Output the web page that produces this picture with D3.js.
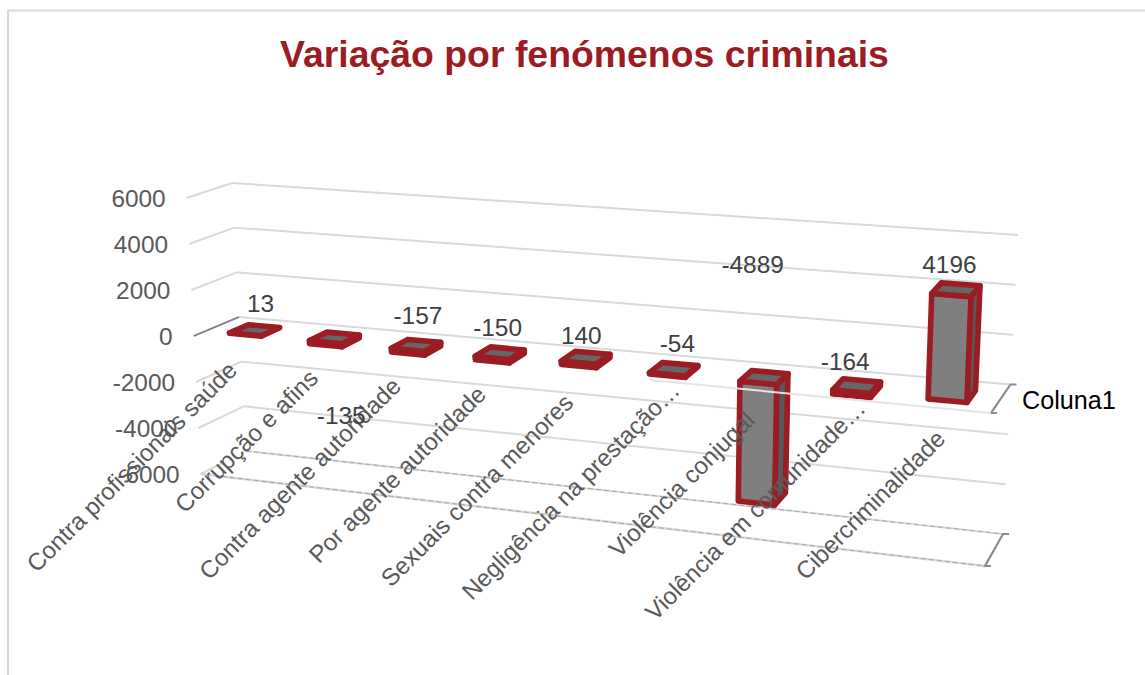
<!DOCTYPE html>
<html><head><meta charset="utf-8">
<script src="https://cdn.jsdelivr.net/npm/d3@7/dist/d3.min.js"></script>
<style>html,body{margin:0;padding:0;background:#fff}svg{display:block}text{font-family:"Liberation Sans",Arial,sans-serif}</style>
</head><body><svg id="c" width="1145" height="675"></svg>
<script>
const categories = ["Contra profissionais saúde","Corrupção e afins","Contra agente autoridade","Por agente autoridade","Sexuais contra menores","Negligência na prestação…","Violência conjugal","Violência em comunidade…","Cibercriminalidade"];
const values = [13,-135,-157,-150,140,-54,-4889,-164,4196];
const tickValues = [6000,4000,2000,0,-2000,-4000,-6000];
const seriesName = "Coluna1";
const titleText = "Variação por fenómenos criminais";

const RED="#9b1c23", GRID="#d9d9d9";
const svg=d3.select("#c");
const dom=[-6000,6000];
const s=(a,b)=>d3.scaleLinear().domain(dom).range([a,b]);
const FL={x:s(200.7,186.7),y:s(474,198)}, BL={x:s(246,232),y:s(451,183)},
      BR={x:s(1003,1018),y:s(534,235)}, FR={x:s(985,997),y:s(566,260)};
const C=1.12, persp=u=>u/(u+C*(1-u));
const lerp=d3.interpolateNumber;
function P(u,d,v){const t=persp(u);
  const bx=lerp(BL.x(v),BR.x(v))(t), by=lerp(BL.y(v),BR.y(v))(t),
        fx=lerp(FL.x(v),FR.x(v))(t), fy=lerp(FL.y(v),FR.y(v))(t);
  return [lerp(bx,fx)(d),lerp(by,fy)(d)];}
const band=d3.scaleBand().domain(d3.range(categories.length)).range([0,1]);
const line=d3.line();
const seg=(g,a,b,col,w,dash)=>g.append("path").attr("d",line([a,b])).attr("fill","none").attr("stroke",col).attr("stroke-width",w).attr("stroke-dasharray",dash||null);

svg.append("path").attr("d","M8 675V10.5H1145").attr("fill","none").attr("stroke",GRID).attr("stroke-width",2);
svg.append("text").attr("x",584.5).attr("y",66.5).attr("text-anchor","middle").attr("font-size",37.4).attr("font-weight","bold").attr("fill",RED).text(titleText);

const grid=svg.append("g");
tickValues.forEach(v=>{
  seg(grid,P(0,1,v),P(0,0,v),GRID,2);
  seg(grid,P(0,0,v),P(1,0,v),GRID,2);
});
seg(grid,P(0,1,-6000),P(1,1,-6000),GRID,2.4);
seg(grid,P(0,0.55,-6000),P(0,0,-6000),"#ffffff",2);
seg(grid,P(0,0,-6000),P(1,0,-6000),"#a6a6a6",1,"5 3");
seg(grid,P(0.03,1,-6000),P(1,1,-6000),"#a6a6a6",1,"5 3");
seg(grid,P(0,1,0),P(0,0,0),"#7f7f7f",1.8);
[[0],[-6000]].forEach(([v])=>{
  const a=P(1,1,v),b=P(1,0,v);
  svg.append("path").attr("d",`M${a[0]+6} ${a[1]}H${a[0]}L${b[0]} ${b[1]}H${b[0]+6}`).attr("fill","none").attr("stroke","#8c8c8c").attr("stroke-width",2.2);
});

svg.append("g").selectAll("text").data(tickValues).join("text")
  .attr("x",v=>FL.x(v)-21).attr("y",v=>FL.y(v)+9).attr("text-anchor","end")
  .attr("font-size",24.4).attr("fill","#595959").text(d=>d);

const D0=0.31,D1=0.73,H=0.0222;
const bars=svg.append("g");
values.forEach((val,i)=>{
  const c=band(i)+band.bandwidth()/2,u0=c-H,u1=c+H,hi=Math.max(val,0),lo=Math.min(val,0);
  const g=bars.append("g").attr("stroke",RED).attr("stroke-width",5.6).attr("stroke-linejoin","round");
  const poly=(pts,f)=>g.append("path").attr("d",line(pts)+"Z").attr("fill",f);
  poly([P(u1,D1,lo),P(u1,D0,lo),P(u1,D0,hi),P(u1,D1,hi)],"#595959");
  poly([P(u0,D1,lo),P(u1,D1,lo),P(u1,D1,hi),P(u0,D1,hi)],"#7f7f7f");
  poly([P(u0,D1,hi),P(u1,D1,hi),P(u1,D0,hi),P(u0,D0,hi)],"#666666");
});
seg(svg,P(0.6,1,0),P(1,1,0),"#e4e4e4",2);

svg.append("g").selectAll("text").data(categories).join("text")
  .attr("transform",(d,i)=>{const p=P(band(i)+band.bandwidth()/2,1,0),cut=d.endsWith("…");return `translate(${p[0]+5+(cut?17:0)},${p[1]+32-(cut?21:0)}) rotate(-45)`;})
  .attr("text-anchor","end").attr("font-size",24.1).attr("fill","#595959").text(d=>d);

const labelOffset=[[5,-26],[6,79],[1,-29],[-3,-25],[-5,-21],[3,-25],[-12,-112],[-12,-24],[-7,-24]];
svg.append("g").selectAll("text").data(values).join("text")
  .attr("transform",(d,i)=>{const c=band(i)+band.bandwidth()/2,p=P(c,0.5,Math.max(d,0));return `translate(${p[0]+labelOffset[i][0]},${p[1]+labelOffset[i][1]+8})`;})
  .attr("text-anchor","middle").attr("font-size",24.4).attr("fill","#404040").text(d=>d);

svg.append("text").attr("x",1022).attr("y",409).attr("font-size",25.2).attr("fill","#000").text(seriesName);
</script></body></html>
